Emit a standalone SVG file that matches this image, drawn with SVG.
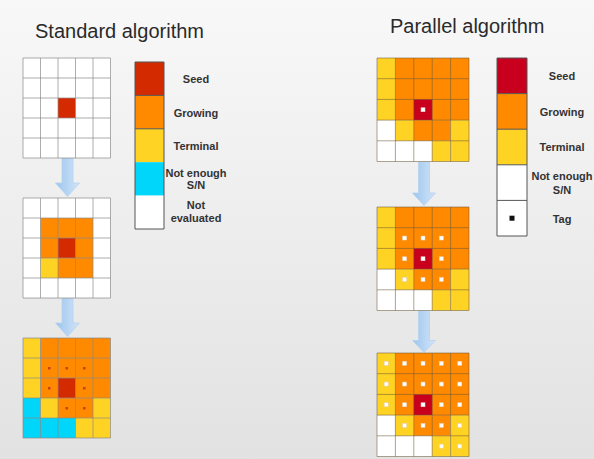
<svg xmlns="http://www.w3.org/2000/svg" xmlns:xlink="http://www.w3.org/1999/xlink" width="594" height="459" viewBox="0 0 594 459">
<defs>
<linearGradient id="bg" x1="0" y1="0" x2="0" y2="1">
<stop offset="0" stop-color="#f8f8f8"/>
<stop offset="1" stop-color="#e2e2e2"/>
</linearGradient>
<linearGradient id="arr" x1="0" y1="0" x2="1" y2="0">
<stop offset="0" stop-color="#9cc5ee"/>
<stop offset="1" stop-color="#d2e5f8"/>
</linearGradient>
<style>
.title{font-family:"Liberation Sans",Arial,sans-serif;font-size:20px;fill:#2a2a2a}
.lbl{font-family:"Liberation Sans",Arial,sans-serif;font-size:11px;font-weight:bold;fill:#333;text-anchor:middle}
.w{fill:#ffffff}
.sl{fill:#d42a00}
.sr{fill:#c8001e}
.o{fill:#ff8a00}
.y{fill:#ffd324}
.c{fill:#00d5fa}
.gl{fill:none;stroke:#8a8a8a;stroke-width:1;stroke-opacity:0.7}
.gr{fill:none;stroke:#6e5a3a;stroke-width:1;stroke-opacity:0.55}
.dl{fill:#c8401a}
.dr{fill:#ffffff;stroke:#e0d0c0;stroke-width:0.5}
.arrow{fill:url(#arr);stroke:#b6d2ee;stroke-width:0.8}
.lg{fill:none;stroke:#555;stroke-width:1}
</style>
<g id="rbase">
<rect x="0" y="0" width="92" height="103.5" class="w"/>
<rect x="0" y="0" width="18.4" height="62.1" class="y"/>
<rect x="18.4" y="0" width="73.6" height="62.1" class="o"/>
<rect x="36.8" y="41.4" width="18.4" height="20.7" class="sr"/>
<rect x="18.4" y="62.1" width="18.4" height="20.7" class="y"/>
<rect x="36.8" y="62.1" width="36.8" height="20.7" class="o"/>
<rect x="73.6" y="62.1" width="18.4" height="41.4" class="y"/>
<rect x="55.2" y="82.8" width="18.4" height="20.7" class="y"/>
<path class="gr" d="M0,0H92V103.5H0Z M18.4,0V103.5 M36.8,0V103.5 M55.2,0V103.5 M73.6,0V103.5 M0,20.7H92 M0,41.4H92 M0,62.1H92 M0,82.8H92"/>
</g>
</defs>
<rect x="0" y="0" width="594" height="459" fill="url(#bg)"/>

<text class="title" x="35" y="38">Standard algorithm</text>
<text class="title" x="390" y="33">Parallel algorithm</text>

<g id="connectors">
<path class="arrow" d="M62,158H73V183H79.5L67.5,196.5L55.5,183H62Z"/>
<path class="arrow" d="M62,298H73V323H79.5L67.5,336.5L55.5,323H62Z"/>
<path class="arrow" d="M418.5,162H429.5V193H435.5L424,205.5L412.5,193H418.5Z"/>
<path class="arrow" d="M418.5,310.5H429.5V340.5H435.5L424,352.5L412.5,340.5H418.5Z"/>
</g>

<g id="std-step1">
<rect x="23" y="58" width="87.5" height="100" class="w"/>
<rect x="58" y="98" width="17.5" height="20" class="sl"/>
<path class="gl" d="M23,58H110.5V158H23Z M40.5,58V158 M58,58V158 M75.5,58V158 M93,58V158 M23,78H110.5 M23,98H110.5 M23,118H110.5 M23,138H110.5"/>
</g>

<g id="std-step2">
<rect x="23" y="198" width="87.5" height="100" class="w"/>
<rect x="40.5" y="218" width="52.5" height="40" class="o"/>
<rect x="58" y="238" width="17.5" height="20" class="sl"/>
<rect x="40.5" y="258" width="17.5" height="20" class="y"/>
<rect x="58" y="258" width="35" height="20" class="o"/>
<path class="gl" d="M23,198H110.5V298H23Z M40.5,198V298 M58,198V298 M75.5,198V298 M93,198V298 M23,218H110.5 M23,238H110.5 M23,258H110.5 M23,278H110.5"/>
</g>

<g id="std-step3">
<rect x="23" y="338" width="17.5" height="60" class="y"/>
<rect x="40.5" y="338" width="70" height="60" class="o"/>
<rect x="58" y="378" width="17.5" height="20" class="sl"/>
<rect x="23" y="398" width="17.5" height="20" class="c"/>
<rect x="40.5" y="398" width="17.5" height="20" class="y"/>
<rect x="58" y="398" width="35" height="20" class="o"/>
<rect x="93" y="398" width="17.5" height="40" class="y"/>
<rect x="23" y="418" width="52.5" height="20" class="c"/>
<rect x="75.5" y="418" width="17.5" height="20" class="y"/>
<path class="gl" d="M23,338H110.5V438H23Z M40.5,338V438 M58,338V438 M75.5,338V438 M93,338V438 M23,358H110.5 M23,378H110.5 M23,398H110.5 M23,418H110.5"/>
<rect class="dl" x="48" y="367" width="2.5" height="2.5"/>
<rect class="dl" x="65.5" y="367" width="2.5" height="2.5"/>
<rect class="dl" x="83" y="367" width="2.5" height="2.5"/>
<rect class="dl" x="48" y="387" width="2.5" height="2.5"/>
<rect class="dl" x="83" y="387" width="2.5" height="2.5"/>
<rect class="dl" x="65.5" y="407" width="2.5" height="2.5"/>
<rect class="dl" x="83" y="407" width="2.5" height="2.5"/>
</g>

<g id="std-legend">
<rect x="135" y="62" width="29" height="33.4" class="sl"/>
<rect x="135" y="95.4" width="29" height="33.4" class="o"/>
<rect x="135" y="128.8" width="29" height="33.4" class="y"/>
<rect x="135" y="162.2" width="29" height="33.4" class="c"/>
<rect x="135" y="195.6" width="29" height="33.4" class="w"/>
<path class="lg" d="M135,62H164V229H135Z M135,95.4H164 M135,128.8H164"/>
<text class="lbl" x="196" y="83">Seed</text>
<text class="lbl" x="196" y="117">Growing</text>
<text class="lbl" x="196" y="150">Terminal</text>
<text class="lbl" x="196" y="177">Not enough</text>
<text class="lbl" x="196" y="189">S/N</text>
<text class="lbl" x="196" y="209">Not</text>
<text class="lbl" x="196" y="222">evaluated</text>
</g>

<g id="par-step1" transform="translate(377,58)">
<use xlink:href="#rbase"/>
<rect class="dr" x="44" y="49.75" width="4" height="4"/>
</g>

<g id="par-step2" transform="translate(377,207)">
<use xlink:href="#rbase"/>
<rect class="dr" x="25.6" y="29.05" width="4" height="4"/>
<rect class="dr" x="44" y="29.05" width="4" height="4"/>
<rect class="dr" x="62.4" y="29.05" width="4" height="4"/>
<rect class="dr" x="25.6" y="49.75" width="4" height="4"/>
<rect class="dr" x="44" y="49.75" width="4" height="4"/>
<rect class="dr" x="62.4" y="49.75" width="4" height="4"/>
<rect class="dr" x="25.6" y="70.45" width="4" height="4"/>
<rect class="dr" x="44" y="70.45" width="4" height="4"/>
<rect class="dr" x="62.4" y="70.45" width="4" height="4"/>
</g>

<g id="par-step3" transform="translate(377,353)">
<use xlink:href="#rbase"/>
<rect class="dr" x="7.2" y="8.35" width="4" height="4"/>
<rect class="dr" x="25.6" y="8.35" width="4" height="4"/>
<rect class="dr" x="44" y="8.35" width="4" height="4"/>
<rect class="dr" x="62.4" y="8.35" width="4" height="4"/>
<rect class="dr" x="80.8" y="8.35" width="4" height="4"/>
<rect class="dr" x="7.2" y="29.05" width="4" height="4"/>
<rect class="dr" x="25.6" y="29.05" width="4" height="4"/>
<rect class="dr" x="44" y="29.05" width="4" height="4"/>
<rect class="dr" x="62.4" y="29.05" width="4" height="4"/>
<rect class="dr" x="80.8" y="29.05" width="4" height="4"/>
<rect class="dr" x="7.2" y="49.75" width="4" height="4"/>
<rect class="dr" x="25.6" y="49.75" width="4" height="4"/>
<rect class="dr" x="44" y="49.75" width="4" height="4"/>
<rect class="dr" x="62.4" y="49.75" width="4" height="4"/>
<rect class="dr" x="80.8" y="49.75" width="4" height="4"/>
<rect class="dr" x="25.6" y="70.45" width="4" height="4"/>
<rect class="dr" x="44" y="70.45" width="4" height="4"/>
<rect class="dr" x="62.4" y="70.45" width="4" height="4"/>
<rect class="dr" x="80.8" y="70.45" width="4" height="4"/>
<rect class="dr" x="62.4" y="91.15" width="4" height="4"/>
<rect class="dr" x="80.8" y="91.15" width="4" height="4"/>
</g>

<g id="par-legend">
<rect x="497" y="58" width="30" height="35.6" class="sr"/>
<rect x="497" y="93.6" width="30" height="35.6" class="o"/>
<rect x="497" y="129.2" width="30" height="35.6" class="y"/>
<rect x="497" y="164.8" width="30" height="71.2" class="w"/>
<path class="lg" d="M497,58H527V236H497Z M497,93.6H527 M497,129.2H527 M497,164.8H527 M497,200.4H527"/>
<rect x="509.5" y="215.7" width="5" height="5" fill="#111"/>
<text class="lbl" x="562" y="80">Seed</text>
<text class="lbl" x="562" y="116">Growing</text>
<text class="lbl" x="562" y="151">Terminal</text>
<text class="lbl" x="562" y="180">Not enough</text>
<text class="lbl" x="562" y="194">S/N</text>
<text class="lbl" x="562" y="223">Tag</text>
</g>
</svg>
